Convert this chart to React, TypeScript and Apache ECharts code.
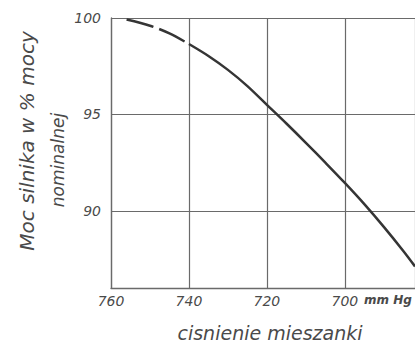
import React, { useEffect, useRef } from "react";
import * as echarts from "echarts";

// pressure of the mixture [mm Hg] and engine power [% of nominal]
const dashedPressure = [756, 750, 745, 740];
const dashedPower = [99.92, 99.6, 99.2, 98.65];
const solidPressure = [740, 735, 730, 725, 720, 715, 710, 705, 700, 695, 690, 685, 682];
const solidPower = [98.65, 98.03, 97.31, 96.47, 95.5, 94.53, 93.53, 92.5, 91.45, 90.35, 89.17, 87.92, 87.12];

const yAxisTitle1 = "Moc silnika w % mocy";
const yAxisTitle2 = "nominalnej";
const xAxisTitle = "cisnienie mieszanki";
const xUnit = "mm Hg";

const FONT = "DejaVu Sans";
const TEXT = "#4a4a4a";
const GRIDC = "#6a6a6a";

export default function App() {
  const ref = useRef<HTMLDivElement>(null);
  useEffect(() => {
    if (!ref.current) return;
    const chart = echarts.init(ref.current, null, { renderer: "svg" });
    const dashed = dashedPressure.map((p, i) => [p, dashedPower[i]]);
    const solid = solidPressure.map((p, i) => [p, solidPower[i]]);
    chart.setOption({
      animation: false,
      backgroundColor: "#ffffff",
      grid: { left: 111, top: 18, right: -1, bottom: 57 },
      xAxis: {
        type: "value",
        inverse: true,
        min: 682,
        max: 760,
        minInterval: 20,
        maxInterval: 20,
        axisLine: { show: true, lineStyle: { color: GRIDC, width: 1.3 } },
        axisTick: { show: false },
        splitLine: { show: true, lineStyle: { color: GRIDC, width: 1.2 } },
        axisLabel: {
          showMinLabel: false,
          margin: 6,
          color: TEXT,
          fontFamily: FONT,
          fontStyle: "italic",
          fontSize: 14,
        },
      },
      yAxis: {
        type: "value",
        min: 86,
        max: 100,
        minInterval: 5,
        maxInterval: 5,
        axisLine: { show: true, lineStyle: { color: GRIDC, width: 1.3 } },
        axisTick: { show: false },
        splitLine: { show: true, lineStyle: { color: GRIDC, width: 1.2 } },
        axisLabel: {
          showMinLabel: false,
          margin: 10,
          color: TEXT,
          fontFamily: FONT,
          fontStyle: "italic",
          fontSize: 14,
        },
      },
      series: [
        {
          type: "line",
          data: dashed,
          showSymbol: false,
          smooth: 0.3,
          lineStyle: { color: "#353535", width: 2.5, type: [28, 6] },
        },
        {
          type: "line",
          data: solid,
          showSymbol: false,
          smooth: 0.3,
          lineStyle: { color: "#353535", width: 2.5 },
        },
      ],
      graphic: [
        {
          type: "text",
          x: 27,
          y: 141,
          rotation: Math.PI / 2,
          style: {
            text: yAxisTitle1,
            fill: TEXT,
            font: `italic 20px "${FONT}"`,
            textAlign: "center",
            textVerticalAlign: "middle",
          },
        },
        {
          type: "text",
          x: 58,
          y: 160,
          rotation: Math.PI / 2,
          style: {
            text: yAxisTitle2,
            fill: TEXT,
            font: `italic 17px "${FONT}"`,
            textAlign: "center",
            textVerticalAlign: "middle",
          },
        },
        {
          type: "text",
          x: 270,
          y: 333,
          style: {
            text: xAxisTitle,
            fill: TEXT,
            font: `italic 19px "${FONT}"`,
            textAlign: "center",
            textVerticalAlign: "middle",
          },
        },
        {
          type: "text",
          x: 364,
          y: 300,
          style: {
            text: xUnit,
            fill: TEXT,
            font: `italic bold 12px "${FONT}"`,
            textAlign: "left",
            textVerticalAlign: "middle",
          },
        },
      ],
    });
    return () => chart.dispose();
  }, []);
  return (
    <div
      ref={ref}
      style={{ position: "absolute", left: 0, top: 0, width: 415, height: 345 }}
    />
  );
}
